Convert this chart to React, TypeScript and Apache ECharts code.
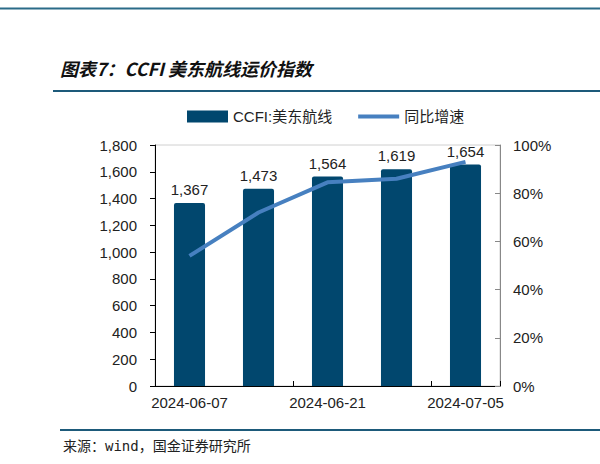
import React, { useEffect, useRef } from "react";
import * as echarts from "echarts";

const categories = ["2024-06-07", "2024-06-14", "2024-06-21", "2024-06-28", "2024-07-05"];
const ccfiValues = [1367, 1473, 1564, 1619, 1654];
const yoyValues = [54, 72, 84.5, 86, 93];
const barName = "CCFI:美东航线";
const lineName = "同比增速";
const titleText = "图表7：CCFI 美东航线运价指数";
const sourceText = "来源：wind，国金证券研究所";

const LABEL_FONT = "'Liberation Sans', Arial, 'Noto Sans CJK SC', sans-serif";

export default function App() {
  const ref = useRef<HTMLDivElement>(null);
  useEffect(() => {
    if (!ref.current) return;
    const chart = echarts.init(ref.current, null, { renderer: "svg" });
    chart.setOption({
      animation: false,
      backgroundColor: "#ffffff",
      textStyle: { fontFamily: LABEL_FONT },
      graphic: [
        { type: "line", shape: { x1: 0, y1: 8.5, x2: 600, y2: 8.5 }, style: { stroke: "#2a6b88", lineWidth: 2 } },
        { type: "text", left: 60, top: 59, style: { text: titleText, fontSize: 18, fontWeight: "bold", fontStyle: "italic", fontFamily: "'Noto Sans CJK SC', sans-serif", fill: "#111" } },
        { type: "line", shape: { x1: 53, y1: 91, x2: 600, y2: 91 }, style: { stroke: "#1d5a7a", lineWidth: 2 } },
        { type: "line", shape: { x1: 60, y1: 430, x2: 600, y2: 430 }, style: { stroke: "#1d5a7a", lineWidth: 2 } },
        { type: "text", left: 63, top: 439, style: { text: sourceText, fontSize: 14, fontFamily: "'DejaVu Sans Mono', 'Noto Sans CJK SC', monospace", fill: "#222" } },
      ],
      legend: {
        left: 182,
        top: 104,
        itemWidth: 41,
        itemHeight: 12,
        itemGap: 26,
        textStyle: { fontSize: 15, color: "#222", fontFamily: LABEL_FONT },
        data: [
          { name: barName, icon: "rect" },
          { name: lineName, icon: "path://M0,0 L41,0 L41,4 L0,4 Z" },
        ],
      },
      grid: { left: 155, right: 100, top: 145, bottom: 78, show: true, borderColor: "#d0d0d0", borderWidth: 1 },
      xAxis: {
        type: "category",
        data: categories,
        boundaryGap: true,
        axisLine: { lineStyle: { color: "#000", width: 1 } },
        axisTick: { show: true, inside: true, length: 5, lineStyle: { color: "#000" } },
        axisLabel: { interval: 1, fontSize: 15, color: "#222", margin: 9 },
      },
      yAxis: [
        {
          type: "value",
          min: 0,
          max: 1800,
          interval: 200,
          axisLine: { show: true, lineStyle: { color: "#000" } },
          axisTick: { show: true, length: 5, lineStyle: { color: "#000" } },
          splitLine: { show: false },
          axisLabel: {
            fontSize: 15,
            color: "#222",
            margin: 18,
            formatter: (v: number) => v.toLocaleString("en-US"),
          },
        },
        {
          type: "value",
          min: 0,
          max: 100,
          interval: 20,
          position: "right",
          axisLine: { show: true, lineStyle: { color: "#888" } },
          axisTick: { show: true, inside: true, length: 5, lineStyle: { color: "#888" } },
          splitLine: { show: false },
          axisLabel: { fontSize: 15, color: "#222", margin: 13, formatter: "{value}%" },
        },
      ],
      series: [
        {
          name: barName,
          type: "bar",
          data: ccfiValues,
          barWidth: "45%",
          itemStyle: { color: "#01476e", borderRadius: [2, 2, 0, 0] },
          label: {
            show: true,
            position: "top",
            distance: 6,
            fontSize: 15,
            color: "#222",
            formatter: (p: any) => Number(p.value).toLocaleString("en-US"),
          },
        },
        {
          name: lineName,
          type: "line",
          yAxisIndex: 1,
          data: yoyValues,
          symbol: "none",
          lineStyle: { color: "#4780c0", width: 4 },
          itemStyle: { color: "#4780c0" },
          z: 3,
        },
      ],
    });
    return () => chart.dispose();
  }, []);
  return <div ref={ref} style={{ position: "absolute", left: 0, top: 0, width: 600, height: 464 }} />;
}
